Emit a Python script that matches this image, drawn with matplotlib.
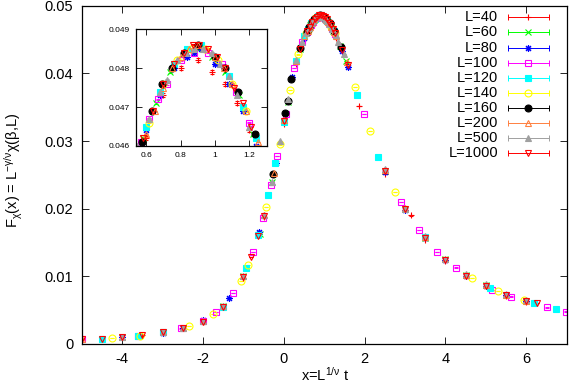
import matplotlib
matplotlib.use('Agg')
import matplotlib.pyplot as plt
import matplotlib as mpl

# Colors (gnuplot-ish defaults)
RED, GREEN, BLUE = '#ff0000', '#00ff00', '#0000ff'
MAGENTA, CYAN, YELLOW = '#ff00ff', '#00ffff', '#ffff00'
BLACK, ORANGE, GRAY = '#000000', '#ff8040', '#a0a0a0'

mpl.rcParams['font.family'] = ['Liberation Sans', 'DejaVu Sans']
mpl.rcParams['mathtext.default'] = 'regular'
mpl.rcParams['axes.unicode_minus'] = False
mpl.rcParams['axes.linewidth'] = 0.9

# Data: x = L^{1/nu} t, y = F_chi(x), one list pair per lattice size
x40 = [-4.5, -3.5, -2.5, -1.5, -1.0, -0.5, 0.0, 0.3, 0.6, 0.7,
       0.8, 0.9, 0.98, 1.06, 1.13, 1.2, 1.3, 1.56, 1.86, 2.5,
       3.14, 3.5, 4.0, 4.5, 5.0, 5.5, 6.0]
y40 = [0.0008, 0.0013, 0.0023, 0.0054, 0.0098, 0.0187, 0.0325, 0.0414, 0.0462, 0.0473,
       0.0480, 0.0482, 0.0479, 0.0476, 0.0471, 0.0464, 0.0452, 0.0413, 0.0352, 0.0252,
       0.0190, 0.0154, 0.0122, 0.0100, 0.0085, 0.0071, 0.0062]

x60 = [-4.0, -3.0, -2.0, -1.5, -1.0, -0.6, -0.3, 0.1, 0.4, 0.58,
       0.66, 0.74, 0.82, 0.9, 0.98, 1.06, 1.14, 1.22, 1.4, 1.55,
       2.5, 3.0, 3.5, 4.0, 4.5, 5.0, 5.5, 6.0]
y60 = [0.0011, 0.0017, 0.0034, 0.0056, 0.0100, 0.0163, 0.0240, 0.0358, 0.0436, 0.0462,
       0.0471, 0.0479, 0.0484, 0.0485, 0.0483, 0.0479, 0.0473, 0.0463, 0.0440, 0.0418,
       0.0255, 0.0199, 0.0157, 0.0125, 0.0102, 0.0087, 0.0073, 0.0064]

x80 = [-4.0, -3.0, -2.5, -2.0, -1.35, -0.62, -0.2, 0.2, 0.5, 0.6,
       0.68, 0.76, 0.84, 0.88, 0.92, 1.0, 1.08, 1.16, 1.24, 1.45,
       1.6, 2.5, 3.0, 3.5, 4.0, 4.5, 5.0, 5.5, 6.0]
y80 = [0.0011, 0.0016, 0.0024, 0.0035, 0.0068, 0.0166, 0.0268, 0.0395, 0.0453, 0.0464,
       0.0473, 0.0480, 0.0483, 0.0484, 0.0485, 0.0481, 0.0476, 0.0469, 0.0460, 0.0433,
       0.0410, 0.0254, 0.0198, 0.0157, 0.0124, 0.0101, 0.0086, 0.0072, 0.0063]

x100 = [-5.0, -3.6, -2.55, -2.0, -1.68, -1.26, -0.77, -0.52, -0.31, -0.16,
        0.05, 0.25, 0.45, 0.57, 0.62, 0.67, 0.72, 0.8, 0.88, 0.96,
        1.04, 1.12, 1.2, 1.27, 1.98, 2.89, 3.34, 3.8, 4.25, 5.16,
        5.62, 6.52, 6.99]
y100 = [0.0007, 0.0012, 0.0023, 0.0034, 0.0047, 0.0075, 0.0136, 0.0186, 0.0235, 0.0278,
        0.0340, 0.0408, 0.0447, 0.0461, 0.0467, 0.0472, 0.0476, 0.0482, 0.0484, 0.0484,
        0.0481, 0.0474, 0.0466, 0.0458, 0.0340, 0.0210, 0.0168, 0.0136, 0.0113, 0.0080,
        0.0070, 0.0054, 0.0048]

x120 = [-4.5, -3.6, -3.0, -1.5, -0.93, -0.65, -0.4, -0.21, 0.0, 0.29,
        0.5, 0.6, 0.68, 0.76, 0.84, 0.92, 1.0, 1.08, 1.16, 1.24,
        1.81, 2.33, 3.49, 5.1, 6.2, 6.74]
y120 = [0.0008, 0.0012, 0.0017, 0.0055, 0.0113, 0.0161, 0.0220, 0.0267, 0.0328, 0.0419,
        0.0455, 0.0465, 0.0474, 0.0481, 0.0485, 0.0486, 0.0483, 0.0478, 0.0470, 0.0462,
        0.0368, 0.0277, 0.0158, 0.0083, 0.0060, 0.0051]

x140 = [-4.25, -3.55, -2.35, -1.75, -1.07, -0.89, -0.44, -0.1, 0.15, 0.35,
        0.55, 0.62, 0.7, 0.78, 0.86, 0.94, 1.02, 1.1, 1.18, 1.26,
        1.75, 2.13, 2.76, 4.66, 5.31, 5.95]
y140 = [0.0009, 0.0012, 0.0027, 0.0044, 0.0093, 0.0117, 0.0203, 0.0295, 0.0375, 0.0428,
        0.0459, 0.0466, 0.0476, 0.0482, 0.0485, 0.0485, 0.0482, 0.0476, 0.0469, 0.0459,
        0.0380, 0.0315, 0.0225, 0.0098, 0.0078, 0.0065]

x160 = [-0.26, 0.04, 0.1, 0.18, 0.41, 0.575, 0.632, 0.69, 0.752, 0.82,
        0.899, 0.999, 1.056, 1.136, 1.232, 1.41]
y160 = [0.0251, 0.0341, 0.0359, 0.0391, 0.0437, 0.0461, 0.0469, 0.0476, 0.0480, 0.0484,
        0.0486, 0.0483, 0.0480, 0.0474, 0.0463, 0.0439]

x200 = [-5.0, -4.0, -3.0, -2.5, -2.0, -1.5, -1.0, -0.5, -0.25, 0.0,
        0.3, 0.5, 0.6, 0.65, 0.7, 0.75, 0.8, 0.85, 0.9, 0.95,
        1.0, 1.05, 1.1, 1.18, 1.25, 1.3, 1.56, 2.5, 3.0, 3.5,
        4.0, 4.5, 5.0, 5.5, 6.0]
y200 = [0.0007, 0.0011, 0.0017, 0.0024, 0.0034, 0.0056, 0.0101, 0.0190, 0.0253, 0.0331,
        0.0419, 0.0455, 0.0463, 0.0469, 0.0475, 0.0480, 0.0483, 0.0485, 0.0486, 0.0485,
        0.0483, 0.0480, 0.0476, 0.0469, 0.0461, 0.0455, 0.0417, 0.0257, 0.0201, 0.0158,
        0.0125, 0.0102, 0.0087, 0.0073, 0.0064]

x500 = [-4.0, -3.0, -2.5, -2.0, -1.5, -1.0, -0.5, -0.3, -0.1, 0.1,
        0.3, 0.45, 0.55, 0.62, 0.68, 0.72, 0.78, 0.83, 0.88, 0.93,
        0.98, 1.03, 1.08, 1.13, 1.2, 1.28, 1.35, 1.5, 2.5, 3.0,
        3.5, 4.0, 4.5, 5.0, 5.5, 6.0]
y500 = [0.0011, 0.0017, 0.0024, 0.0034, 0.0056, 0.0100, 0.0191, 0.0240, 0.0300, 0.0362,
        0.0420, 0.0447, 0.0460, 0.0467, 0.0474, 0.0477, 0.0482, 0.0484, 0.0485, 0.0485,
        0.0484, 0.0481, 0.0478, 0.0473, 0.0465, 0.0457, 0.0447, 0.0428, 0.0258, 0.0200,
        0.0159, 0.0126, 0.0103, 0.0088, 0.0074, 0.0065]

x1000 = [-5.0, -4.5, -4.0, -3.5, -3.0, -2.5, -2.0, -1.5, -1.0, -0.8,
         -0.65, -0.5, 0.0, 0.4, 0.58, 0.64, 0.7, 0.76, 0.82, 0.87,
         0.91, 0.96, 1.01, 1.06, 1.11, 1.16, 1.21, 1.26, 1.45, 1.58,
         2.5, 3.0, 3.5, 4.0, 4.5, 5.0, 5.5, 6.0, 6.26]
y1000 = [0.0007, 0.0008, 0.0011, 0.0013, 0.0017, 0.0023, 0.0033, 0.0055, 0.0099, 0.0128,
         0.0160, 0.0189, 0.0330, 0.0436, 0.0462, 0.0469, 0.0476, 0.0481, 0.0484, 0.0486,
         0.0486, 0.0485, 0.0483, 0.0480, 0.0475, 0.0471, 0.0465, 0.0459, 0.0434, 0.0413,
         0.0256, 0.0200, 0.0157, 0.0124, 0.0101, 0.0086, 0.0072, 0.0063, 0.0061]

# typical statistical error per lattice size
errs = [0.00005, 0.00003, 0.00002, 0.00002, 0.00002, 0.00002, 0.00001, 0.00001, 0.00001, 0.00001]

labels = ['L=40', 'L=60', 'L=80', 'L=100', 'L=120', 'L=140', 'L=160', 'L=200', 'L=500', 'L=1000']
xs_all = [x40, x60, x80, x100, x120, x140, x160, x200, x500, x1000]
ys_all = [y40, y60, y80, y100, y120, y140, y160, y200, y500, y1000]

# style: color, marker, filled
styles = [(RED, '+', True), (GREEN, 'x', True), (BLUE, (8, 2, 0), True),
          (MAGENTA, 's', False), (CYAN, 's', True), (YELLOW, 'o', False),
          (BLACK, 'o', True), (ORANGE, '^', False), (GRAY, '^', True),
          (RED, 'v', False)]

MS = 5


def draw(ax):
    for xs, ys, e, (c, m, filled) in zip(xs_all, ys_all, errs, styles):
        ax.errorbar(xs, ys, yerr=e, fmt='', marker=m, ls='none', color=c, mec=c,
                    mfc=c if filled else 'none', ms=MS, mew=0.8,
                    elinewidth=0.6, capsize=1.5, capthick=0.6)


fig = plt.figure(figsize=(5.69, 3.89), dpi=100)
ax = fig.add_axes([0.1436, 0.1157, 0.8524, 0.8696])
draw(ax)

ax.set_xlim(-5, 7)
ax.set_ylim(0, 0.05)
ax.set_xticks([-4, -2, 0, 2, 4, 6])
ax.set_yticks([0, 0.01, 0.02, 0.03, 0.04, 0.05])
ax.set_yticklabels(['0', '0.01', '0.02', '0.03', '0.04', '0.05'])
ax.tick_params(direction='in', top=True, right=True, length=5, width=0.6,
               labelsize=10.5, pad=6)

fig.text(0.571, 0.036, r'x=L$^{1/ν}$ t', ha='center', va='center', fontsize=10.5)
fig.text(0.024, 0.563, r'F$_{χ}$(x) = L$^{-γ/ν}$χ(β,L)', ha='center', va='center',
         rotation=90, fontsize=10.5)

# gnuplot-like key drawn in axes coordinates
for i, (lab, (c, m, filled)) in enumerate(zip(labels, styles)):
    yk = 0.9657 - 0.04464 * i
    ax.text(0.859, yk, lab, transform=ax.transAxes, ha='right', va='center',
            fontsize=10.5)
    ax.plot([0.8796, 0.9635], [yk, yk], transform=ax.transAxes, color=c, lw=0.7)
    ax.plot([0.8796, 0.9635], [yk, yk], transform=ax.transAxes, ls='none',
            marker='|', ms=5, mew=0.7, color=c)
    ax.plot([0.9208], [yk], transform=ax.transAxes, ls='none', marker=m, ms=MS,
            mew=0.8, color=c, mec=c, mfc=c if filled else 'none')

# Inset zoom on the peak
axins = fig.add_axes([0.2385, 0.6247, 0.2302, 0.3000])
draw(axins)
axins.set_xlim(0.54, 1.3)
axins.set_ylim(0.046, 0.049)
axins.set_xticks([0.6, 0.8, 1.0, 1.2])
axins.set_xticklabels(['0.6', '0.8', '1', '1.2'])
axins.set_yticks([0.046, 0.047, 0.048, 0.049])
axins.set_yticklabels(['0.046', '0.047', '0.048', '0.049'])
axins.tick_params(direction='in', top=True, right=True, length=4, width=0.6,
                  labelsize=6, pad=4)

fig.savefig('out.png', dpi=100)
